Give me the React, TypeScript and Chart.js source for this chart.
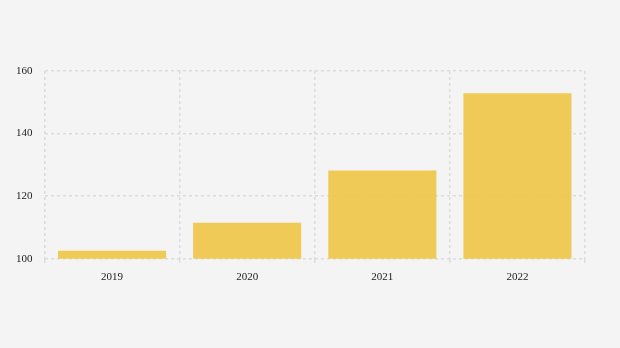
import React, { useEffect, useRef } from "react";
import { Chart, registerables } from "chart.js";

Chart.register(...registerables);

const categories = ["2019", "2020", "2021", "2022"];
const values = [102.6, 111.5, 128.2, 152.9];
const yTicks = [100, 120, 140, 160];

export default function App() {
  const ref = useRef<HTMLCanvasElement | null>(null);
  useEffect(() => {
    document.body.style.margin = "0";
    const ctx = ref.current!;
    const grid = {
      color: "#dcdcdc",
      lineWidth: 1.5,
      tickLength: 4,
      drawTicks: true,
    };
    const chart = new Chart(ctx, {
      type: "bar",
      data: {
        labels: categories,
        datasets: [
          {
            data: values,
            backgroundColor: "rgba(240,197,70,0.9)",
            borderWidth: 0,
            categoryPercentage: 0.8,
            barPercentage: 1,
          },
        ],
      },
      options: {
        animation: false,
        responsive: false,
        maintainAspectRatio: false,
        layout: { padding: { top: 71, right: 35, bottom: 56, left: 4 } },
        plugins: { legend: { display: false }, tooltip: { enabled: false } },
        scales: {
          x: {
            grid: { ...grid, offset: true },
            border: { display: false, dash: [3, 3] },
            ticks: {
              color: "#222",
              font: { family: "'Liberation Serif', serif", size: 11 },
              padding: 8,
            },
          },
          y: {
            min: yTicks[0],
            max: yTicks[yTicks.length - 1],
            grid: { ...grid, drawTicks: false },
            border: { display: false, dash: [3, 3] },
            afterBuildTicks: (axis: any) => {
              axis.ticks = yTicks.map((v) => ({ value: v }));
            },
            ticks: {
              color: "#222",
              font: { family: "'Liberation Serif', serif", size: 11 },
              padding: 12,
            },
          },
        },
      },
    });
    return () => chart.destroy();
  }, []);
  return (
    <div style={{ width: 620, height: 348, background: "#f4f4f4" }}>
      <canvas ref={ref} width={620} height={348} />
    </div>
  );
}
